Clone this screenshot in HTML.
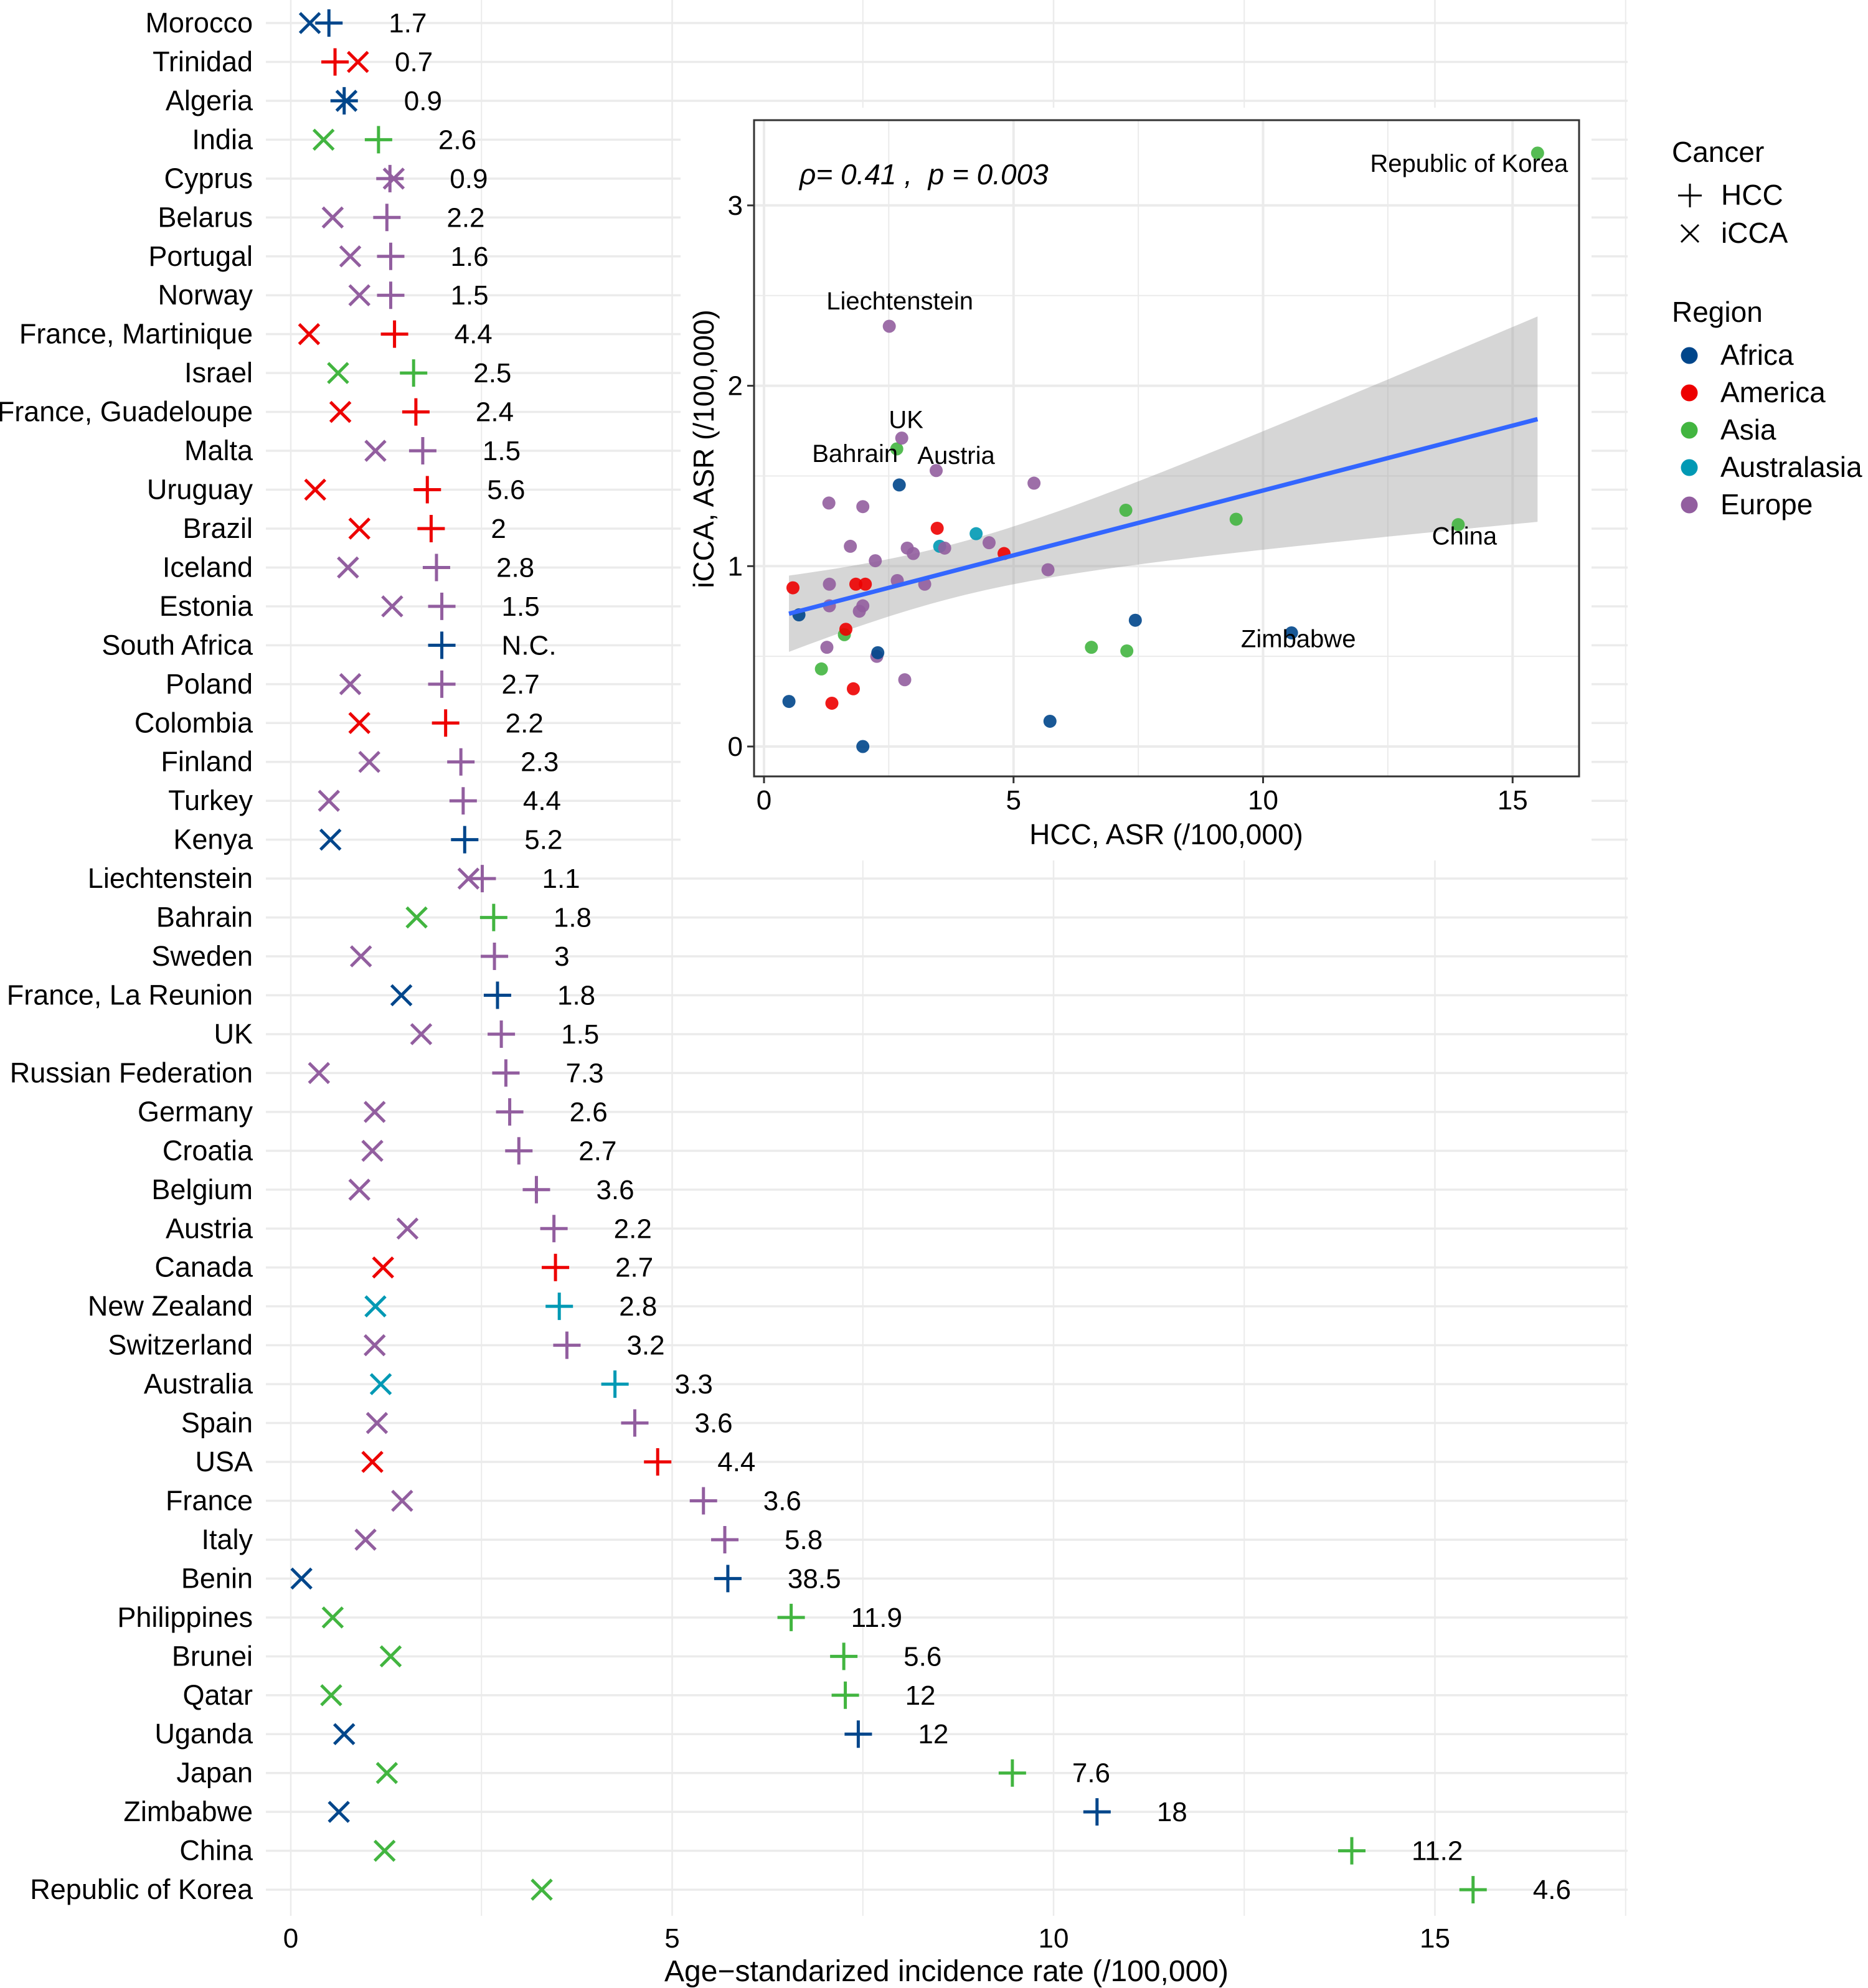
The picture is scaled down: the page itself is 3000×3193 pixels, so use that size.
<!DOCTYPE html>
<html><head><meta charset="utf-8"><style>
html,body{margin:0;padding:0;background:#fff}
svg{display:block;font-family:"Liberation Sans",Arial,sans-serif}
</style></head><body>
<svg id="chart" width="3000" height="3193" viewBox="0 0 3000 3193" xmlns="http://www.w3.org/2000/svg">
<g id="main"></g>
<g id="inset"></g>
<g id="legend"></g>
</svg>
<script>
const countries=["Morocco","Trinidad","Algeria","India","Cyprus","Belarus","Portugal","Norway","France, Martinique","Israel","France, Guadeloupe","Malta","Uruguay","Brazil","Iceland","Estonia","South Africa","Poland","Colombia","Finland","Turkey","Kenya","Liechtenstein","Bahrain","Sweden","France, La Reunion","UK","Russian Federation","Germany","Croatia","Belgium","Austria","Canada","New Zealand","Switzerland","Australia","Spain","USA","France","Italy","Benin","Philippines","Brunei","Qatar","Uganda","Japan","Zimbabwe","China","Republic of Korea"];
const regions=["Africa","America","Africa","Asia","Europe","Europe","Europe","Europe","America","Asia","America","Europe","America","America","Europe","Europe","Africa","Europe","America","Europe","Europe","Africa","Europe","Asia","Europe","Africa","Europe","Europe","Europe","Europe","Europe","Europe","America","Australasia","Europe","Australasia","Europe","America","Europe","Europe","Africa","Asia","Asia","Asia","Africa","Asia","Africa","Asia","Asia"];
const hccValues=[0.50,0.58,0.70,1.15,1.30,1.26,1.31,1.31,1.36,1.61,1.64,1.73,1.79,1.84,1.91,1.98,1.98,1.98,2.03,2.23,2.26,2.28,2.51,2.66,2.67,2.71,2.76,2.82,2.87,2.99,3.22,3.45,3.47,3.52,3.62,4.25,4.51,4.81,5.41,5.69,5.73,6.56,7.25,7.27,7.44,9.46,10.57,13.91,15.5];
const iccaValues=[0.25,0.88,0.73,0.43,1.35,0.55,0.78,0.90,0.24,0.62,0.65,1.11,0.32,0.90,0.75,1.33,null,0.78,0.90,1.03,0.50,0.52,2.33,1.65,0.92,1.45,1.71,0.37,1.10,1.07,0.90,1.53,1.21,1.11,1.10,1.18,1.13,1.07,1.46,0.98,0.14,0.55,1.31,0.53,0.70,1.26,0.63,1.23,3.29];
const ratioLabels=["1.7","0.7","0.9","2.6","0.9","2.2","1.6","1.5","4.4","2.5","2.4","1.5","5.6","2","2.8","1.5","N.C.","2.7","2.2","2.3","4.4","5.2","1.1","1.8","3","1.8","1.5","7.3","2.6","2.7","3.6","2.2","2.7","2.8","3.2","3.3","3.6","4.4","3.6","5.8","38.5","11.9","5.6","12","12","7.6","18","11.2","4.6"];
const mainTicks=[0,5,10,15];
const mainMinor=[2.5,7.5,12.5,17.5];
const insetXTicks=[0,5,10,15];
const insetXMinor=[2.5,7.5,12.5];
const insetYTicks=[0,1,2,3];
const insetYMinor=[0.5,1.5,2.5];
const regionNames=["Africa","America","Asia","Australasia","Europe"];
const regionColors=["#00468B","#ED0000","#42B540","#0099B4","#925E9F"];
const labelled=["Republic of Korea","Liechtenstein","UK","Bahrain","Austria","China","Zimbabwe"];
const labelOffsets=[[-110,30],[17,-27],[7,-16],[-67,21],[32,-11],[10,32],[11,23]];

const NS="http://www.w3.org/2000/svg";
function mk(tag,attrs,parent,txt){const e=document.createElementNS(NS,tag);for(const k in attrs)e.setAttribute(k,attrs[k]);if(txt!==undefined)e.textContent=txt;parent.appendChild(e);return e;}
const col=r=>regionColors[regionNames.indexOf(r)];

// ---- main plot
const main=document.getElementById('main');
const X=v=>467+v*122.5;
const Y=i=>37+i*62.46;
const PL=427,PR=2614,PT=0,PB=3077;
for(const v of mainMinor.concat(mainTicks)){const l=mk('line',{x1:X(v),x2:X(v),y1:PT,y2:PB,stroke:'#ebebeb','stroke-width':mainTicks.includes(v)?2.5:2},main);

}
countries.forEach((c,i)=>{const l=mk('line',{x1:PL,x2:PR,y1:Y(i),y2:Y(i),stroke:'#ebebeb','stroke-width':3.5},main);

});
const cover=mk('rect',{x:1093,y:173,width:1463,height:1209,fill:'#fff'},main);


countries.forEach((c,i)=>{
 const t=mk('text',{x:406,y:Y(i)+15,'text-anchor':'end','font-size':45,fill:'#000'},main,c);
 
 
 const cl=col(regions[i]);
 if(iccaValues[i]!==null){const x=X(iccaValues[i]),y=Y(i),s=16;
  const g=mk('path',{d:`M${x-s},${y-s}L${x+s},${y+s}M${x-s},${y+s}L${x+s},${y-s}`,stroke:cl,'stroke-width':5,fill:'none'},main);
  
  }
 const x=X(hccValues[i]),y=Y(i),s=22;
 const p=mk('path',{d:`M${x-s},${y}L${x+s},${y}M${x},${y-s}L${x},${y+s}`,stroke:cl,'stroke-width':5,fill:'none'},main);
 
 
 const v=mk('text',{x:x+96,y:y+15,'font-size':44,fill:'#000'},main,ratioLabels[i]);
 
 
});
mainTicks.forEach(v=>{const t=mk('text',{x:X(v),y:3128,'text-anchor':'middle','font-size':44,fill:'#000'},main,String(v));

});
const xt=mk('text',{x:1520,y:3182,'text-anchor':'middle','font-size':48,fill:'#000'},main,'Age\u2212standarized incidence rate (/100,000)');



// ---- inset
const ins=document.getElementById('inset');
const IX=v=>1227+v*80.15, IY=v=>1199-v*289.7;
const BL=1211,BR=2536,BT=193,BB=1247;
for(const v of insetXMinor){const l=mk('line',{x1:IX(v),x2:IX(v),y1:BT,y2:BB,stroke:'#ebebeb','stroke-width':2},ins);}
for(const v of insetYMinor){const l=mk('line',{x1:BL,x2:BR,y1:IY(v),y2:IY(v),stroke:'#ebebeb','stroke-width':2},ins);}
for(const v of insetXTicks){const l=mk('line',{x1:IX(v),x2:IX(v),y1:BT,y2:BB,stroke:'#ebebeb','stroke-width':4},ins);}
for(const v of insetYTicks){const l=mk('line',{x1:BL,x2:BR,y1:IY(v),y2:IY(v),stroke:'#ebebeb','stroke-width':4},ins);}
const px=hccValues, py=iccaValues.map(v=>v===null?0:v), n=px.length;
const mx=px.reduce((a,b)=>a+b)/n, my=py.reduce((a,b)=>a+b)/n;
let sxx=0,sxy=0;for(let i=0;i<n;i++){sxx+=(px[i]-mx)**2;sxy+=(px[i]-mx)*(py[i]-my);}
const b1=sxy/sxx,b0=my-b1*mx;let sse=0;for(let i=0;i<n;i++)sse+=(py[i]-b0-b1*px[i])**2;
const s=Math.sqrt(sse/(n-2)),tq=2.012;
const xmin=Math.min(...px),xmax=Math.max(...px);
let up=[],lo=[];for(let k=0;k<=80;k++){const x=xmin+(xmax-xmin)*k/80,f=b0+b1*x,se=s*Math.sqrt(1/n+(x-mx)**2/sxx);up.push([IX(x),IY(f+tq*se)]);lo.push([IX(x),IY(f-tq*se)]);}
const band=mk('path',{d:'M'+up.map(p=>p.join(',')).join('L')+'L'+lo.reverse().map(p=>p.join(',')).join('L')+'Z',fill:'#999','fill-opacity':0.4},ins);


px.forEach((x,i)=>{const c=mk('circle',{cx:IX(x),cy:IY(py[i]),r:10.5,fill:col(regions[i]),'fill-opacity':0.9},ins);

});
const fl=mk('line',{x1:IX(xmin),y1:IY(b0+b1*xmin),x2:IX(xmax),y2:IY(b0+b1*xmax),stroke:'#3366FF','stroke-width':7},ins);


labelled.forEach((c,k)=>{const i=countries.indexOf(c);const t=mk('text',{x:IX(px[i])+labelOffsets[k][0],y:IY(py[i])+labelOffsets[k][1],'text-anchor':'middle','font-size':40,fill:'#000'},ins,c);

});
const box=mk('rect',{x:BL,y:BT,width:BR-BL,height:BB-BT,fill:'none',stroke:'#333','stroke-width':3},ins);


insetXTicks.forEach(v=>{mk('line',{x1:IX(v),x2:IX(v),y1:BB,y2:BB+11,stroke:'#333','stroke-width':3},ins);
const t=mk('text',{x:IX(v),y:1300,'text-anchor':'middle','font-size':44,fill:'#000'},ins,String(v));

});
insetYTicks.forEach(v=>{mk('line',{x1:BL-11,x2:BL,y1:IY(v),y2:IY(v),stroke:'#333','stroke-width':3},ins);
const t=mk('text',{x:1193,y:IY(v)+15,'text-anchor':'end','font-size':44,fill:'#000'},ins,String(v));

});
const ixt=mk('text',{x:1873,y:1356,'text-anchor':'middle','font-size':46,fill:'#000'},ins,'HCC, ASR (/100,000)');


const iyt=mk('text',{x:0,y:0,'text-anchor':'middle','font-size':46,fill:'#000',transform:'translate(1146,721) rotate(-90)'},ins,'iCCA, ASR (/100,000)');


const rho=mk('text',{x:1284,y:296,'font-size':46,'font-style':'italic',fill:'#000','xml:space':'preserve',style:'white-space:pre'},ins,'\u03c1= 0.41 ,  p = 0.003');



// ---- legend
const lg=document.getElementById('legend');
const t1=mk('text',{x:2685,y:260,'font-size':46,fill:'#000'},lg,'Cancer');


mk('path',{d:'M2695,314L2733,314M2714,295L2714,333',stroke:'#000','stroke-width':3,fill:'none'},lg);
const h=mk('text',{x:2764,y:329,'font-size':46,fill:'#000'},lg,'HCC');


mk('path',{d:'M2700,361L2728,389M2700,389L2728,361',stroke:'#000','stroke-width':3,fill:'none'},lg);
const ic=mk('text',{x:2764,y:390,'font-size':46,fill:'#000'},lg,'iCCA');


const t2=mk('text',{x:2685,y:517,'font-size':46,fill:'#000'},lg,'Region');


regionNames.forEach((r,k)=>{mk('circle',{cx:2713,cy:571+k*60,r:13.5,fill:regionColors[k]},lg);
const t=mk('text',{x:2763,y:586+k*60,'font-size':46,fill:'#000'},lg,r);

});
</script>
</body></html>
